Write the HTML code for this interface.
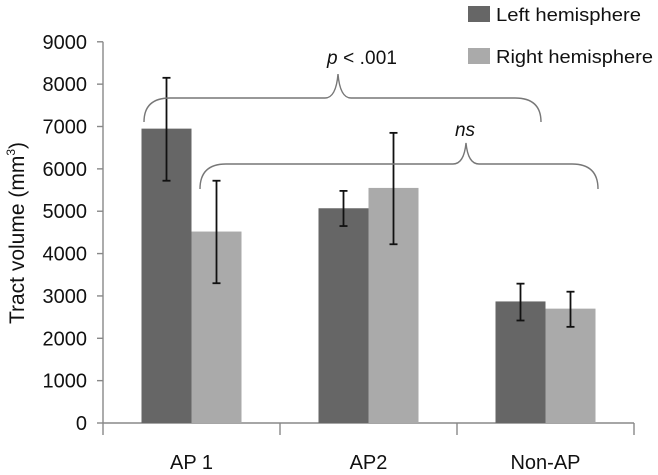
<!DOCTYPE html>
<html><head><meta charset="utf-8"><style>
html,body{margin:0;padding:0;background:#fff;}
svg{display:block;font-family:"Liberation Sans",sans-serif;}
</style></head><body>
<svg id="chart" width="658" height="475">
<g id="axes"></g>
<g id="bars"></g>
<g id="ann">
<path d="M144,122 Q144,98 170,98 L325,98 Q336,98 338,74 Q340,98 351,98 L515,98 Q541,98 541,122" fill="none" stroke="#777" stroke-width="1.4"/>
<text x="362" y="64" font-size="19" text-anchor="middle" fill="#111" textLength="70"><tspan font-style="italic">p</tspan> &lt; .001</text>
<path d="M200,189 Q200,164 226,164 L453,164 Q464,164 466,143 Q468,164 479,164 L572,164 Q598,164 598,189" fill="none" stroke="#777" stroke-width="1.4"/>
<text x="465" y="136" font-size="19" font-style="italic" text-anchor="middle" fill="#111">ns</text>
</g>
<g>
<rect x="468" y="6" width="22" height="16" fill="#666"/>
<text x="496" y="21" font-size="18" fill="#111" textLength="145" lengthAdjust="spacingAndGlyphs">Left hemisphere</text>
<rect x="468" y="48" width="22" height="16" fill="#aaa"/>
<text x="496" y="63" font-size="18" fill="#111" textLength="157" lengthAdjust="spacingAndGlyphs">Right hemisphere</text>
</g>
<text transform="translate(24,233) rotate(-90)" font-size="21" text-anchor="middle" fill="#111">Tract volume (mm<tspan font-size="12" dy="-9">3</tspan><tspan dy="9">)</tspan></text>
</svg>
<script>
const categories=["AP 1","AP2","Non-AP"];
const leftValues=[6950,5070,2870];
const leftLow=[5720,4650,2420];
const leftHigh=[8150,5480,3290];
const rightValues=[4520,5550,2700];
const rightLow=[3300,4220,2270];
const rightHigh=[5720,6850,3100];
const yTicks=[0,1000,2000,3000,4000,5000,6000,7000,8000,9000];

const NS="http://www.w3.org/2000/svg";
const x0=103,x1=634,y0=423,yTop=41.8,yMax=9000;
const catW=(x1-x0)/categories.length, barW=50;
function y(v){return y0-(v/yMax)*(y0-yTop);}
function cx(i){return x0+catW*(i+0.5);}
function mk(tag,attrs,parent){const e=document.createElementNS(NS,tag);for(const k in attrs)e.setAttribute(k,attrs[k]);parent.appendChild(e);return e;}
const axes=document.getElementById('axes'),bars=document.getElementById('bars');
let l=mk('line',{x1:x0,y1:y(yMax),x2:x0,y2:y0,stroke:'#888','stroke-width':1.4},axes);


l=mk('line',{x1:x0,y1:y0,x2:x1,y2:y0,stroke:'#888','stroke-width':1.4},axes);


yTicks.forEach(t=>{
  const tk=mk('line',{x1:x0-6,y1:y(t),x2:x0,y2:y(t),stroke:'#888','stroke-width':1.4},axes);
  
  
  const tx=mk('text',{x:x0-16,y:y(t)+7,'font-size':20,'text-anchor':'end',fill:'#111'},axes);
  tx.textContent=t;
  
  
});
for(let i=0;i<=categories.length;i++){
  const tk=mk('line',{x1:x0+catW*i,y1:y0,x2:x0+catW*i,y2:y0+12,stroke:'#888','stroke-width':1.4},axes);
  
  
}
function errBar(xc,lo,hi){
  const g=mk('g',{stroke:'#111','stroke-width':1.8},bars);
  
  
  mk('line',{x1:xc,y1:y(lo),x2:xc,y2:y(hi)},g);
  mk('line',{x1:xc-4,y1:y(lo),x2:xc+4,y2:y(lo)},g);
  mk('line',{x1:xc-4,y1:y(hi),x2:xc+4,y2:y(hi)},g);
}
categories.forEach((c,i)=>{
  const c0=cx(i);
  const bl=mk('rect',{x:c0-barW,y:y(leftValues[i]),width:barW,height:y0-y(leftValues[i]),fill:'#666'},bars);
  
  
  const br=mk('rect',{x:c0,y:y(rightValues[i]),width:barW,height:y0-y(rightValues[i]),fill:'#aaa'},bars);
  
  
  errBar(c0-barW/2,leftLow[i],leftHigh[i]);
  errBar(c0+barW/2,rightLow[i],rightHigh[i]);
  const tx=mk('text',{x:c0,y:y0+46,'font-size':20,'text-anchor':'middle',fill:'#111'},axes);
  tx.textContent=c;
  
  
});
</script>
</body></html>
